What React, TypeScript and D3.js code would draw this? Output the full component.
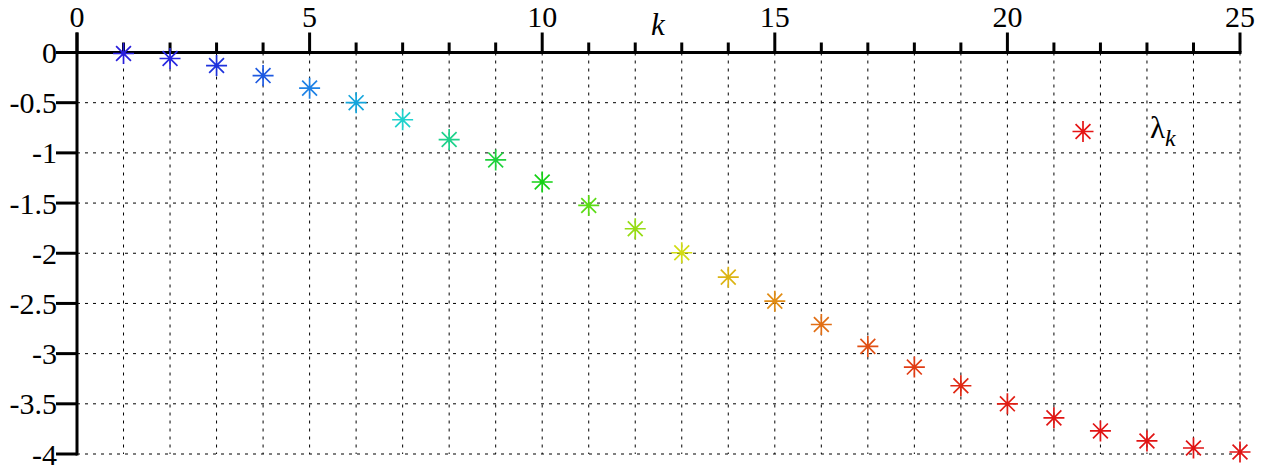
import React from 'react';
import * as d3 from 'd3';

// eigenvalues lambda_k, k = 1..25
const ks: number[] = d3.range(1, 26);
const lambdas: number[] = [
  -0.01, -0.06, -0.13, -0.23, -0.355, -0.5, -0.67, -0.867, -1.07, -1.29,
  -1.524, -1.756, -1.995, -2.238, -2.477, -2.71, -2.928, -3.134, -3.32, -3.5,
  -3.64, -3.77, -3.87, -3.94, -3.98,
];
const markerColors: string[] = [
  'rgb(40,30,220)', 'rgb(40,40,225)', 'rgb(30,50,220)', 'rgb(30,90,225)', 'rgb(30,130,230)',
  'rgb(20,165,220)', 'rgb(30,210,205)', 'rgb(30,210,140)', 'rgb(30,210,60)', 'rgb(20,210,20)',
  'rgb(90,220,20)', 'rgb(150,220,20)', 'rgb(210,220,20)', 'rgb(220,180,20)', 'rgb(225,140,20)',
  'rgb(225,110,20)', 'rgb(225,80,20)', 'rgb(225,60,20)', 'rgb(225,40,20)', 'rgb(225,30,20)',
  'rgb(225,22,20)', 'rgb(225,20,20)', 'rgb(225,20,20)', 'rgb(225,20,20)', 'rgb(225,20,20)',
];
const xTicks: number[] = d3.range(0, 26);
const xLabels: number[] = [0, 5, 10, 15, 20, 25];
const yTicks: number[] = [0, -0.5, -1, -1.5, -2, -2.5, -3, -3.5, -4];
const legendLabel = 'λ';

const font = 'Liberation Serif, Times New Roman, DejaVu Serif, serif';

function Star({cx, cy, color, r = 10.5}: {cx: number, cy: number, color: string, r?: number}) {
  const d = r * Math.SQRT1_2;
  const path = `M${cx - r},${cy}H${cx + r}M${cx},${cy - r}V${cy + r}` +
    `M${cx - d},${cy - d}L${cx + d},${cy + d}M${cx - d},${cy + d}L${cx + d},${cy - d}`;
  return <path d={path} stroke={color} strokeWidth={1.7} fill="none"/>;
}

export default function App() {
  const width = 1279;
  const height = 471;

  const x = d3.scaleLinear().domain([0, 25]).range([77, 1240]);
  const y = d3.scaleLinear().domain([0, -4]).range([52.5, 454]);

  return (
    <svg width={width} height={height}
         style={{position: 'absolute', left: 0, top: 0, background: '#fff'}}>
      {/* grid */}
      <g stroke="#000" strokeWidth={1} strokeDasharray="3,5">
        {xTicks.filter(t => t > 0).map(t => (
          <line key={'gx' + t} x1={x(t)} x2={x(t)} y1={y(0)} y2={y(-4)}/>
        ))}
        {yTicks.filter(t => t < 0).map(t => (
          <line key={'gy' + t} x1={x(0)} x2={x(25)} y1={y(t)} y2={y(t)}/>
        ))}
      </g>

      {/* axes: x on top, y on the left */}
      <g stroke="#000" strokeWidth={3}>
        <line x1={x(0)} x2={x(25) + 1.5} y1={y(0)} y2={y(0)}/>
        {xTicks.map(t => (
          <line key={'tx' + t} x1={x(t)} x2={x(t)} y1={y(0)} y2={y(0) - (t % 5 === 0 ? 20 : 10)}/>
        ))}
        <line x1={x(0)} x2={x(0)} y1={y(0) - 20} y2={y(-4) + 1.5}/>
        {yTicks.map(t => (
          <line key={'ty' + t} x1={x(0)} x2={x(0) - 21} y1={y(t)} y2={y(t)}/>
        ))}
      </g>
      <g style={{fontFamily: font}} fill="#000">
        {xLabels.map(t => (
          <text key={'lx' + t} x={x(t)} y={27} textAnchor="middle" fontSize={30}
                style={{fontFamily: font}}>{t}</text>
        ))}
        {yTicks.map(t => (
          <text key={'ly' + t} x={57} y={y(t)} dy="0.35em" textAnchor="end" fontSize={30}
                style={{fontFamily: font}}>{t}</text>
        ))}
        <text x={658} y={35} textAnchor="middle" fontSize={31} fontStyle="italic"
              style={{fontFamily: font}}>k</text>
      </g>

      {/* points */}
      {ks.map((k, i) => (
        <Star key={'p' + k} cx={x(k)} cy={y(lambdas[i])} color={markerColors[i]}/>
      ))}

      {/* legend */}
      <Star cx={1083} cy={131.5} color="rgb(230,20,20)"/>
      <text x={1150} y={138} fontSize={31} style={{fontFamily: font}}>{legendLabel}
        <tspan fontStyle="italic" fontSize={24} dy={8}>k</tspan>
      </text>
    </svg>
  );
}
